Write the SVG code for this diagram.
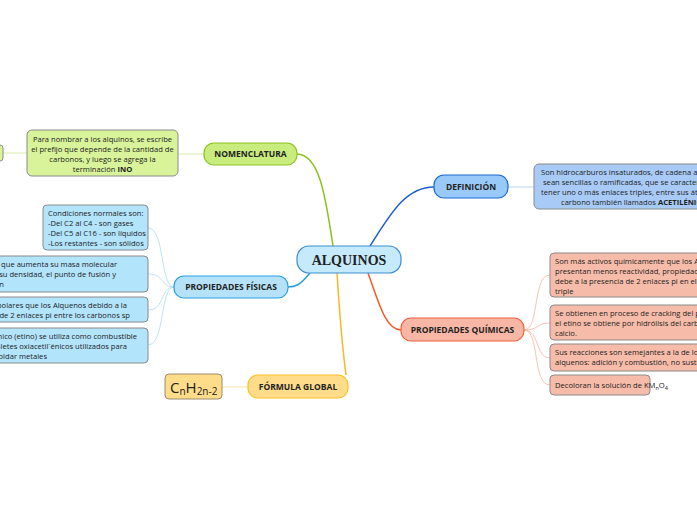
<svg xmlns="http://www.w3.org/2000/svg" width="697" height="520" viewBox="0 0 697 520">
<style>
text{font-family:"Open Sans","Noto Sans","Liberation Sans",sans-serif;fill:#222}
.h{font-size:8.5px;font-weight:bold;text-anchor:middle}
.t{font-size:7.6px}
.c{text-anchor:middle}
.e{text-anchor:end}
.leaf{stroke:#8a8a8a;stroke-width:1}
path{fill:none}
</style>
<rect width="697" height="520" fill="#fff"/>
<g id="connectors">
<path d="M333 246 C326 200 320 154 297 154" stroke="#8cc21e" stroke-width="1.5"/>
<path d="M370 246 C390 215 405 187 434 187" stroke="#1a5fd0" stroke-width="1.5"/>
<path d="M368 273 C378 300 385 330 401 330" stroke="#f05a28" stroke-width="1.5"/>
<path d="M310 273 C300 285 296 287 288 287" stroke="#2aa0e0" stroke-width="1.5"/>
<path d="M337 273 C340 320 344 360 346 375" stroke="#f8b822" stroke-width="1.5"/>
<path d="M204 154 L178 154" stroke="#d7ecb0" stroke-width="1"/>
<path d="M27 153 L3 153" stroke="#d7ecb0" stroke-width="1"/>
<path d="M508 187 L534 187" stroke="#b7d3f5" stroke-width="1"/>
<path d="M524 330 C540 330 532 275 550 275 M524 330 C540 330 535 323 550 323 M524 330 C540 330 535 358 550 358 M524 330 C540 330 532 385 550 385" stroke="#f7b29c" stroke-width="0.8"/>
<path d="M174 287 C160 287 165 228 148 228 M174 287 C160 287 165 274 148 274 M174 287 C160 287 165 310 148 310 M174 287 C160 287 165 345 148 345" stroke="#a8dcf5" stroke-width="0.8"/>
<path d="M248 387 L222 387" stroke="#fde3a6" stroke-width="1"/>
</g>
<g id="alquinos"><rect x="297" y="246" width="104" height="27" rx="12" fill="#c5eafc" stroke="#3a8fd0" stroke-width="1.2"/><text x="349" y="265" class="c" style="font-family:'Liberation Serif',serif;font-size:14px;font-weight:bold">ALQUINOS</text></g>
<g id="nomenclatura"><rect x="204" y="143" width="93" height="22" rx="10" fill="#c9ec7e" stroke="#8cc21e" stroke-width="1.2"/><text x="250.5" y="157" class="h">NOMENCLATURA</text></g>
<g id="nom-text"><rect x="27" y="130" width="151" height="46" rx="5" fill="#d8f39a" class="leaf"/><text class="t c" x="102.5" y="142">Para nombrar a los alquinos, se escribe</text><text class="t c" x="102.5" y="152">el prefijo que depende de la cantidad de</text><text class="t c" x="102.5" y="162">carbonos, y luego se agrega la</text><text class="t c" x="102.5" y="172">terminación <tspan font-weight="bold">INO</tspan></text></g>
<g id="nom-stub"><rect x="-6" y="145" width="9" height="16" rx="3" fill="#d8f39a" class="leaf"/></g>
<g id="definicion"><rect x="434" y="175" width="74" height="23" rx="10" fill="#99c9f8" stroke="#1a6ad6" stroke-width="1.2"/><text x="471" y="190" class="h">DEFINICIÓN</text></g>
<g id="def-text"><rect x="534" y="164" width="170" height="45" rx="5" fill="#a7cbf6" class="leaf"/><text class="t" x="541" y="175">Son hidrocarburos insaturados, de cadena abierta</text><text class="t" x="543" y="185">sean sencillas o ramificadas, que se caracterizan</text><text class="t" x="541" y="195">tener uno o más enlaces triples, entre sus átomos</text><text class="t" x="561" y="205">carbono también llamados <tspan font-weight="bold">ACETILÉNICOS</tspan></text></g>
<g id="quimicas"><rect x="401" y="318" width="123" height="23" rx="10" fill="#f7b7a4" stroke="#f06040" stroke-width="1.2"/><text x="462.5" y="333" class="h">PROPIEDADES QUÍMICAS</text></g>
<g id="q1"><rect x="550" y="253" width="160" height="44" rx="4" fill="#f7bca9" class="leaf"/><text class="t" x="555" y="264">Son más activos químicamente que los Alcanos y</text><text class="t" x="555" y="274">presentan menos reactividad, propiedad que se</text><text class="t" x="555" y="284">debe a la presencia de 2 enlaces pi en el enlace</text><text class="t" x="555" y="294">triple</text></g>
<g id="q2"><rect x="550" y="305" width="160" height="35" rx="4" fill="#f7bca9" class="leaf"/><text class="t" x="555" y="316">Se obtienen en proceso de cracking del petróleo,</text><text class="t" x="555" y="326">el etino se obtiene por hidrólisis del carburo de</text><text class="t" x="555" y="336">calcio.</text></g>
<g id="q3"><rect x="550" y="344" width="160" height="27" rx="4" fill="#f7bca9" class="leaf"/><text class="t" x="555" y="355">Sus reacciones son semejantes a la de los</text><text class="t" x="555" y="365">alquenos: adición y combustión, no sustitución</text></g>
<g id="q4"><rect x="550" y="375" width="100" height="20" rx="4" fill="#f7bca9" class="leaf"/><text class="t" x="555" y="388">Decoloran la solución de KM<tspan font-size="5.5" dy="2">n</tspan><tspan dy="-2">O</tspan><tspan font-size="5.5" dy="2">4</tspan></text></g>
<g id="fisicas"><rect x="174" y="276" width="114" height="22" rx="10" fill="#b5e2f8" stroke="#2aa0e0" stroke-width="1.2"/><text x="231" y="290" class="h">PROPIEDADES FÍSICAS</text></g>
<g id="f1"><rect x="43" y="205" width="105" height="45" rx="4" fill="#b2e4fb" class="leaf"/><text class="t" x="48" y="216">Condiciones normales son:</text><text class="t" x="48" y="226">-Del C2 al C4 - son gases</text><text class="t" x="48" y="236">-Del C5 al C16 - son líquidos</text><text class="t" x="48" y="246">-Los restantes - son sólidos</text></g>
<g id="f2"><rect x="-10" y="256" width="158" height="36" rx="4" fill="#b2e4fb" class="leaf"/><text class="t e" x="117" y="267">A medida que aumenta su masa molecular</text><text class="t e" x="116" y="277">aumenta su densidad, el punto de fusión y</text><text class="t e" x="4" y="287">ebullición</text></g>
<g id="f3"><rect x="-10" y="297" width="158" height="25" rx="4" fill="#b2e4fb" class="leaf"/><text class="t e" x="127" y="308">Son más polares que los Alquenos debido a la</text><text class="t e" x="130" y="318">presencia de 2 enlaces pi entre los carbonos sp</text></g>
<g id="f4"><rect x="-10" y="328" width="158" height="35" rx="4" fill="#b2e4fb" class="leaf"/><text class="t e" x="137" y="339">El acetilénico (etino) se utiliza como combustible</text><text class="t e" x="127" y="349">en los sopletes oxiacetil´énicos utilizados para</text><text class="t e" x="47" y="359">cortar y soldar metales</text></g>
<g id="formula"><rect x="248" y="375" width="100" height="23" rx="10" fill="#fedc8a" stroke="#fdbf2a" stroke-width="1.2"/><text x="298" y="390" class="h">FÓRMULA GLOBAL</text></g>
<g id="formula-val"><rect x="165" y="374" width="57" height="25" rx="4" fill="#fedc8a" stroke="#9b8a6a"/><text x="170" y="393" style="font-size:15px">C<tspan font-size="10" dy="2">n</tspan><tspan dy="-2">H</tspan><tspan font-size="10" dy="2">2n-2</tspan></text></g>
</svg>
